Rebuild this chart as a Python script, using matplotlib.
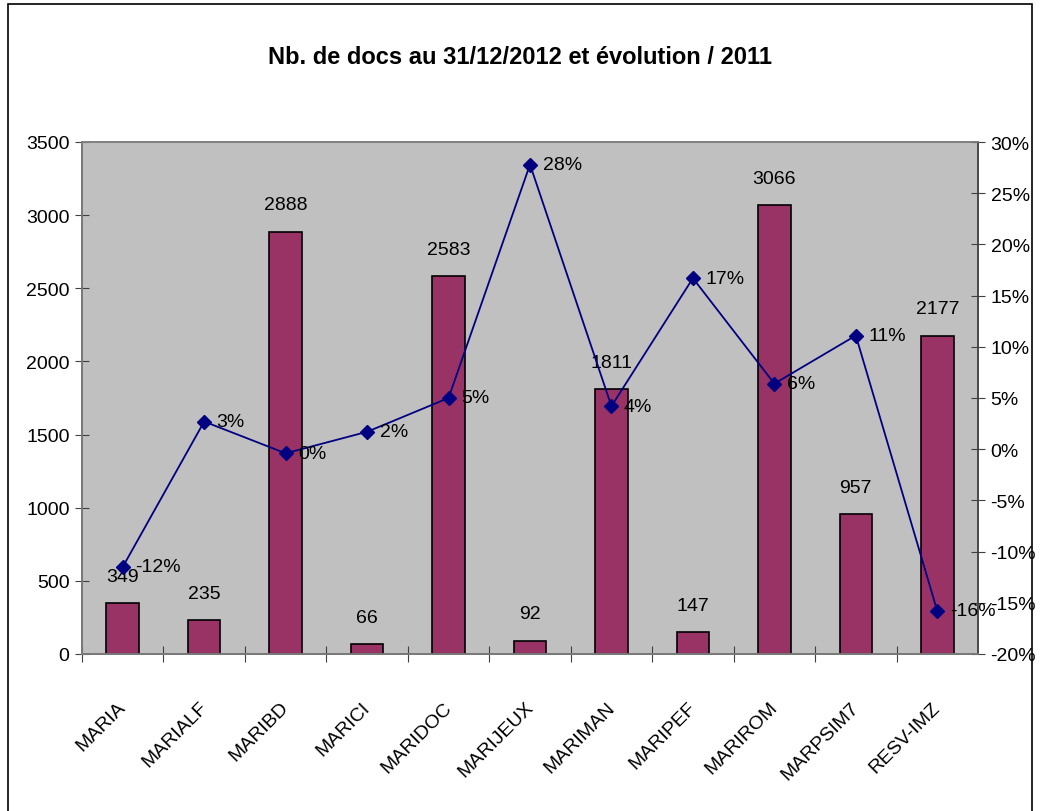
import matplotlib.pyplot as plt
from matplotlib.patches import Rectangle
from matplotlib.ticker import FuncFormatter, MultipleLocator

plt.rcParams['font.family'] = ['Liberation Sans', 'DejaVu Sans']

# data
categories = ["MARIA", "MARIALF", "MARIBD", "MARICI", "MARIDOC", "MARIJEUX",
              "MARIMAN", "MARIPEF", "MARIROM", "MARPSIM7", "RESV-IMZ"]
nb_docs = [349, 235, 2888, 66, 2583, 92, 1811, 147, 3066, 957, 2177]
evolution = [-11.5, 2.7, -0.4, 1.7, 5.0, 27.8, 4.2, 16.7, 6.4, 11.1, -15.8]
pct_labels = ["-12%", "3%", "0%", "2%", "5%", "28%", "4%", "17%", "6%", "11%", "-16%"]

fs = 14

fig = plt.figure(figsize=(10.4, 8.12), dpi=100)
ax = fig.add_axes([82 / 1040, 1 - 655 / 812, 896 / 1040, 512 / 812])
ax2 = ax.twinx()

x = list(range(len(categories)))
ax.set_facecolor('#C0C0C0')
ax.bar(x, nb_docs, width=0.4, color='#993366', edgecolor='black', linewidth=1.2, zorder=2)
for xi, v in zip(x, nb_docs):
    ax.annotate(str(v), (xi, v), xytext=(0, 13), textcoords='offset points',
                ha='center', va='bottom', fontsize=fs)

ax.set_xlim(-0.5, len(categories) - 0.5)
ax.set_ylim(0, 3500)
ax.yaxis.set_major_locator(MultipleLocator(500))
ax.set_xticks([i + 0.5 for i in x[:-1]] + [-0.5])
ax.set_xticklabels([])
ax.tick_params(axis='x', direction='inout', length=12, color='#404040')
ax.tick_params(axis='y', direction='inout', length=10, labelsize=fs, color='#404040', pad=4)
for xi, name in zip(x, categories):
    ax.annotate(name, (xi, 0), xytext=(-4, -32), textcoords='offset points',
                xycoords='data', rotation=45, ha='right', va='top',
                fontsize=fs, rotation_mode='anchor', annotation_clip=False)

ax2.plot(x, evolution, color='#000080', linewidth=1.3, marker='D', markersize=7, zorder=3)
for xi, v, lab in zip(x, evolution, pct_labels):
    ax2.annotate(lab, (xi, v), xytext=(9, 0), textcoords='offset points',
                 ha='left', va='center', fontsize=fs)
ax2.set_ylim(-20, 30)
ax2.yaxis.set_major_locator(MultipleLocator(5))
ax2.yaxis.set_major_formatter(FuncFormatter(lambda v, p: f"{v:.0f}%"))
ax2.tick_params(axis='y', direction='inout', length=10, labelsize=fs, color='#404040', pad=4)

for a in (ax, ax2):
    for s in a.spines.values():
        s.set_color('#808080')
        s.set_linewidth(1.2)
ax.spines['left'].set_color('#404040')
ax.spines['bottom'].set_color('#404040')
ax2.spines['right'].set_color('#404040')

fig.text(0.5, 1 - 58 / 812, "Nb. de docs au 31/12/2012 et évolution / 2011",
         ha='center', va='center', fontsize=17, fontweight='bold')

fig.patches.append(Rectangle((8 / 1040, -0.01), 1024 / 1040, 1.01 - 5 / 812,
                             transform=fig.transFigure, fill=False,
                             edgecolor='black', linewidth=1.2))

fig.savefig('out.png', dpi=100)
